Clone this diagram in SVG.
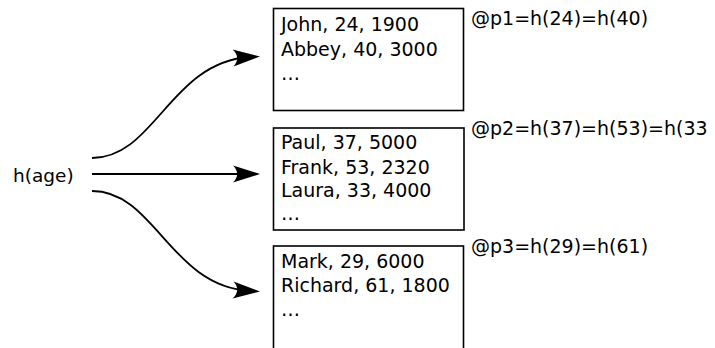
<svg xmlns="http://www.w3.org/2000/svg" width="715" height="348" viewBox="0 0 715 348">
<style>
text{font-family:"DejaVu Sans",sans-serif;font-size:19px;fill:#000}
.box{fill:#fff;stroke:#000;stroke-width:1.6}
.conn{fill:none;stroke:#000;stroke-width:1.8}
</style>
<defs>
<marker id="ah" markerUnits="userSpaceOnUse" markerWidth="40" markerHeight="30" viewBox="-30 -15 40 30" refX="0" refY="0" orient="auto" overflow="visible">
<path d="M10,0 L-17,-8.5 C-11.5,-3 -11.5,3 -17,8.5 Z" fill="#000"/>
</marker>
</defs>
<rect width="715" height="348" fill="#fff"/>
<g id="connectors">
<path class="conn" d="M92,158 C155,158 170,62 250,57" marker-end="url(#ah)"/>
<path class="conn" d="M92,174 L250,174" marker-end="url(#ah)"/>
<path class="conn" d="M92,191 C155,191 170,286 250,291" marker-end="url(#ah)"/>
</g>
<g id="hage"><text x="13" y="182" style="font-size:18.5px">h(age)</text></g>
<g id="p1">
<rect class="box" x="273.5" y="8.5" width="190" height="102"/>
<text x="281" y="31">John, 24, 1900</text>
<text x="281" y="56">Abbey, 40, 3000</text>
<text x="281" y="80">…</text>
<text x="471" y="25">@p1=h(24)=h(40)</text>
</g>
<g id="p2">
<rect class="box" x="273.5" y="128" width="190.5" height="102"/>
<text x="281" y="149">Paul, 37, 5000</text>
<text x="281" y="174">Frank, 53, 2320</text>
<text x="281" y="197">Laura, 33, 4000</text>
<text x="281" y="220">…</text>
<text x="471" y="135">@p2=h(37)=h(53)=h(33</text>
</g>
<g id="p3">
<rect class="box" x="273.5" y="246" width="190" height="110"/>
<text x="281" y="268">Mark, 29, 6000</text>
<text x="281" y="292">Richard, 61, 1800</text>
<text x="281" y="316">…</text>
<text x="471" y="253">@p3=h(29)=h(61)</text>
</g>
</svg>
